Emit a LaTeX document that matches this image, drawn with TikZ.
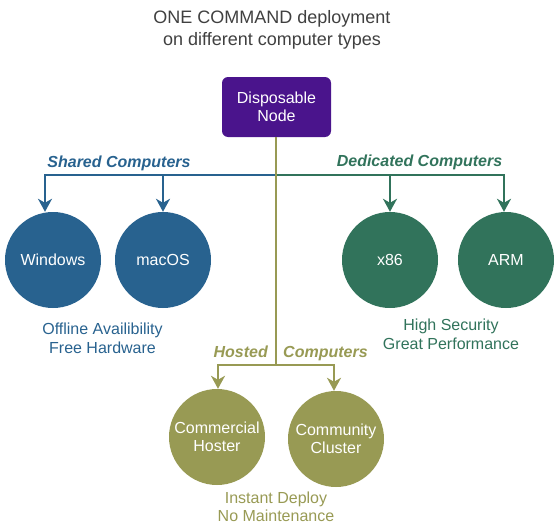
\documentclass[tikz,border=0pt]{standalone}
\usepackage{fontspec}
\setmainfont{Liberation Sans}
\usetikzlibrary{arrows.meta}
\definecolor{cblue}{HTML}{28628F}
\definecolor{cgreen}{HTML}{31735B}
\definecolor{colive}{HTML}{989A54}
\definecolor{cpurple}{HTML}{4A148C}
\definecolor{ctitle}{HTML}{404040}
\begin{document}
\begin{tikzpicture}[x=1pt,y=-1pt,
  comp/.style={circle, minimum size=96pt, inner sep=0pt, text=white,
    font=\fontsize{16}{18.4}\selectfont, align=center},
  lbl/.style={inner sep=0pt, font=\fontsize{16}{18.4}\selectfont\bfseries\itshape},
  note/.style={inner sep=0pt, align=center, font=\fontsize{16}{18.4}\selectfont},
  conn/.style={line width=2pt},
  tipd/.style={-{Stealth[length=13pt,width=14pt,inset=4pt]}}
]
\useasboundingbox (0,0) rectangle (558,530);

% title
\node[note, text=ctitle, font=\fontsize{18}{22.5}\selectfont] (title) at (272,29.6)
  {ONE COMMAND deployment\\on different computer types};

% root
\node[rectangle, rounded corners=6pt, fill=cpurple, minimum width=109pt,
  minimum height=60pt, inner sep=0pt, text=white, align=center,
  font=\fontsize{16}{18.4}\selectfont] (disp) at (276.5,107) {Disposable\\Node};

% computers
\node[comp, fill=cblue] (win) at (53,260) {Windows};
\node[comp, fill=cblue] (mac) at (163,260) {macOS};
\node[comp, fill=cgreen] (x86) at (390,260) {x86};
\node[comp, fill=cgreen] (arm) at (506,260) {ARM};
\node[comp, fill=colive] (comm) at (217,437) {Commercial\\Hoster};
\node[comp, fill=colive] (commu) at (336,439) {Community\\Cluster};

\coordinate (split) at (276,175);
\coordinate (hsplit) at (276,365);

% connectors
\draw[conn, cblue, tipd] (split) -| ([xshift=-8pt]win.north);
\draw[conn, cblue, tipd] (split) -| (mac.north);
\draw[conn, cgreen, tipd] (split) -| (x86.north);
\draw[conn, cgreen, tipd] (split) -| ([xshift=-2pt]arm.north);
\draw[conn, colive, tipd] (hsplit) -| ([xshift=1pt]comm.north);
\draw[conn, colive, tipd] (hsplit) -| ([xshift=-2pt]commu.north);
\draw[conn, colive] (disp.south -| split) -- (hsplit);

% group labels
\node[lbl, text=cblue, anchor=base] (shared) at (119,167.3) {Shared Computers};
\node[lbl, text=cgreen, anchor=base] (dedic) at (419.5,166.7) {Dedicated Computers};
\node[lbl, text=colive, anchor=base east] (hosted) at (268,357.3) {Hosted};
\node[lbl, text=colive, anchor=base west] (hostedc) at (283,357.3) {Computers};

% notes
\node[note, text=cblue] (nshared) at (102.5,338.4) {Offline Availibility\\Free Hardware};
\node[note, text=cgreen] (ndedic) at (451,334.1) {High Security\\Great Performance};
\node[note, text=colive] (nhosted) at (276,506.7) {Instant Deploy\\No Maintenance};
\end{tikzpicture}
\end{document}
